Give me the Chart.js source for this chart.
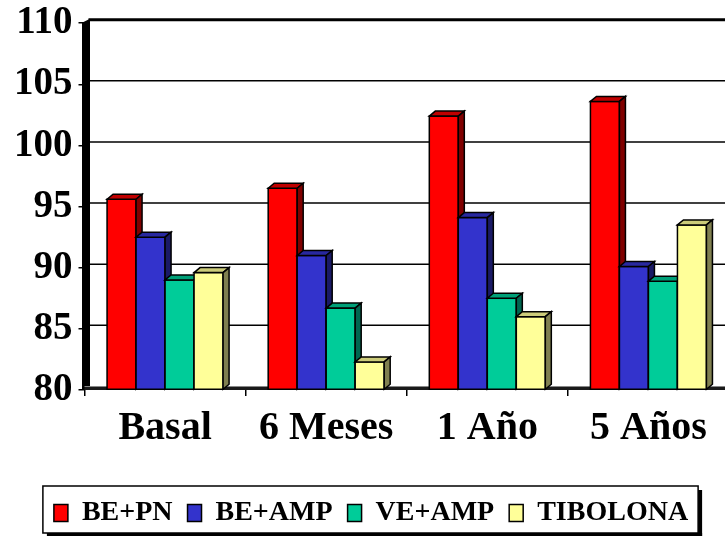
<!DOCTYPE html>
<html>
<head>
<meta charset="utf-8">
<script src="https://cdn.jsdelivr.net/npm/chart.js@4/dist/chart.umd.min.js"></script>
<style>
  html, body { margin: 0; padding: 0; background: #fff; }
  #wrap { width: 725px; height: 537px; overflow: hidden; position: relative; }
  canvas { display: block; }
</style>
</head>
<body>
<div id="wrap"><canvas id="c" width="740" height="537"></canvas></div>
<script>
// ---- data ----
const categories = ['Basal', '6 Meses', '1 Año', '5 Años'];
const seriesNames = ['BE+PN', 'BE+AMP', 'VE+AMP', 'TIBOLONA'];
const bePn     = [95.6, 96.5, 102.4, 103.6];
const beAmp    = [92.5, 91.0, 94.1, 90.1];
const veAmp    = [89.0, 86.7, 87.5, 88.9];
const tibolona = [89.6, 82.3, 86.0, 93.5];
const yMin = 80, yMax = 110, yStep = 5;

// ---- styles ----
const fronts = ['#FF0000', '#3333CC', '#00CC99', '#FFFF99'];
const tops   = ['#C00000', '#2828A0', '#00A078', '#CCCC7A'];
const sides  = ['#800000', '#1A1A66', '#006650', '#808050'];
const DX = 6, DY = 5;
const FONT = "'Liberation Serif', 'Times New Roman', serif";

const walls = {
  id: 'walls',
  beforeDatasetsDraw(chart) {
    const { ctx, chartArea: a, scales: { y } } = chart;
    ctx.save();
    ctx.strokeStyle = '#000';
    y.ticks.forEach(t => {
      if (t.value === yMin) return;
      const py = y.getPixelForValue(t.value) - 3.5;
      ctx.lineWidth = t.value === yMax ? 3 : 1.5;
      ctx.beginPath();
      ctx.moveTo(a.left + 4, py);
      ctx.lineTo(chart.width, py);
      ctx.stroke();
    });
    // left wall
    ctx.fillStyle = '#000';
    ctx.beginPath();
    ctx.moveTo(a.left - 2.5, a.top - 0.5);
    ctx.lineTo(a.left + 5.5, a.top - 4.5);
    ctx.lineTo(a.left + 5.5, a.bottom - 3);
    ctx.lineTo(a.left - 2.5, a.bottom);
    ctx.closePath();
    ctx.fill();
    // floor edge
    ctx.fillStyle = '#1a1a1a';
    ctx.fillRect(a.left, a.bottom - 3, chart.width - a.left, 3);
    ctx.fillStyle = '#888';
    ctx.fillRect(a.left, a.bottom - 4, chart.width - a.left, 1);
    ctx.restore();
  },
  afterDatasetsDraw(chart) {
    const { ctx, chartArea: a } = chart;
    ctx.save();
    ctx.lineWidth = 1.5;
    ctx.strokeStyle = '#000';
    ctx.lineJoin = 'miter';
    const n = chart.data.labels.length;
    for (let i = 0; i < n; i++) {
      chart.data.datasets.forEach((ds, j) => {
        const el = chart.getDatasetMeta(j).data[i];
        const p = el.getProps(['x', 'y', 'base', 'width'], true);
        const x = p.x, y = p.y, width = p.width;
        const base = Math.min(p.base, a.bottom);
        const l = x - width / 2, r = x + width / 2;
        // front
        ctx.fillStyle = fronts[j];
        ctx.fillRect(l, y, r - l, base - y);
        ctx.strokeRect(l, y, r - l, base - y);
        // top
        ctx.fillStyle = tops[j];
        ctx.beginPath();
        ctx.moveTo(l, y); ctx.lineTo(l + DX, y - DY); ctx.lineTo(r + DX, y - DY); ctx.lineTo(r, y);
        ctx.closePath(); ctx.fill(); ctx.stroke();
        // side
        ctx.fillStyle = sides[j];
        ctx.beginPath();
        ctx.moveTo(r, y); ctx.lineTo(r + DX, y - DY); ctx.lineTo(r + DX, base - DY); ctx.lineTo(r, base);
        ctx.closePath(); ctx.fill(); ctx.stroke();
      });
    }
    ctx.restore();
  },
  afterDraw(chart) {
    const lg = chart.legend;
    const hb = lg.legendHitBoxes;
    if (!hb || !hb.length) return;
    const { ctx } = chart;
    const last = hb[hb.length - 1];
    const x0 = hb[0].left - 11, x1 = last.left + last.width + 10;
    const y0 = lg.top + 2, y1 = lg.bottom - 4;
    ctx.save();
    ctx.fillStyle = '#000';
    ctx.fillRect(x0 + 4, y1, x1 - x0, 3);
    ctx.fillRect(x1, y0 + 4, 4, y1 - y0 - 1);
    ctx.lineWidth = 1.5;
    ctx.strokeStyle = '#000';
    ctx.strokeRect(x0, y0, x1 - x0, y1 - y0);
    ctx.restore();
  }
};

const seriesData = [bePn, beAmp, veAmp, tibolona];

new Chart(document.getElementById('c'), {
  type: 'bar',
  data: {
    labels: categories,
    datasets: seriesNames.map((name, j) => ({
      label: name,
      data: seriesData[j],
      base: yMin,
      backgroundColor: fronts[j],
      borderColor: '#000',
      borderWidth: 1.5,
      categoryPercentage: 0.72,
      barPercentage: 1.0
    }))
  },
  options: {
    responsive: false,
    animation: false,
    devicePixelRatio: 1,
    layout: { padding: { left: 13, right: 11, top: 0, bottom: 0 } },
    plugins: {
      tooltip: { enabled: false },
      legend: {
        position: 'bottom',
        labels: {
          color: '#000',
          font: { family: FONT, size: 28, weight: 'bold', lineHeight: 1.0 },
          boxWidth: 14,
          boxHeight: 17,
          padding: 15
        }
      }
    },
    scales: {
      x: {
        grid: { display: true, drawOnChartArea: false, drawTicks: true, tickLength: 6, tickColor: '#000', lineWidth: 1.5, offset: true },
        border: { display: false },
        ticks: { color: '#000', font: { family: FONT, size: 40, weight: 'bold' }, padding: 9, maxRotation: 0 },
        afterFit(s) { s.height = 94; }
      },
      y: {
        min: yMin, max: yMax,
        grid: { display: true, drawOnChartArea: false, drawTicks: true, tickLength: 6, tickColor: '#000', lineWidth: 1.5 },
        border: { display: false },
        ticks: { stepSize: yStep, color: '#000', font: { family: FONT, size: 39, weight: 'bold', lineHeight: 0.88 }, padding: 6 },
        afterFit(s) { s.width = 71.5; }
      }
    }
  },
  plugins: [walls]
});
</script>
</body>
</html>
